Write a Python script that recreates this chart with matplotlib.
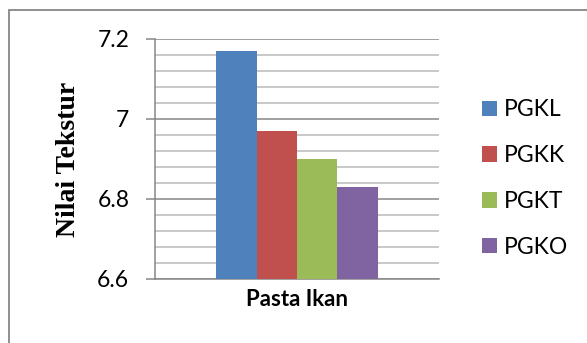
import numpy as np
import matplotlib
matplotlib.use("Agg")
import matplotlib.pyplot as plt
from matplotlib.patches import Rectangle

series = ["PGKL", "PGKK", "PGKT", "PGKO"]
values = [7.17, 6.97, 6.90, 6.83]
category = "Pasta Ikan"
PALETTE = ["#4f81bd", "#c0504d", "#9bbb59", "#8064a2"]
yticks = [6.6, 6.8, 7.0, 7.2]
ytick_labels = ["6.6", "6.8", "7", "7.2"]

plt.rcParams["font.family"] = ["Lato", "DejaVu Sans"]

fig = plt.figure(figsize=(5.87, 3.43), dpi=100)
ax = fig.add_axes([155 / 587, 1 - 279 / 343, 284 / 587, 240 / 343])

# outer chart frame
fig.patches.append(Rectangle((9 / 587, -0.1), 1.2, 1 - 10 / 343 + 0.1,
                             transform=fig.transFigure, fill=False,
                             edgecolor="#868686", linewidth=1.3, zorder=0))

bar_w = 0.1425
offsets = (np.arange(len(series)) - (len(series) - 1) / 2) * bar_w
for i, (name, val) in enumerate(zip(series, values)):
    ax.bar(offsets[i], val - 6.6, bottom=6.6, width=bar_w, color=PALETTE[i],
           label=name, zorder=3)

ax.set_xlim(-0.5, 0.5)
ax.set_ylim(6.6, 7.2)
ax.set_yticks(yticks)
ax.set_yticklabels(ytick_labels)
ax.set_yticks(np.arange(6.6, 7.2001, 0.04), minor=True)
ax.grid(which="major", axis="y", color="#868686", linewidth=1.1, zorder=1)
ax.grid(which="minor", axis="y", color="#b9b9b9", linewidth=1.1, zorder=1)
ax.tick_params(axis="y", which="major", length=6.5, width=1.1, color="#868686",
               labelsize=16.5, pad=12)
ax.tick_params(axis="y", which="minor", length=0)
ax.set_xticks([0])
ax.set_xticklabels([category], fontsize=16, fontweight="bold")
ax.tick_params(axis="x", length=0, pad=7)

for s in ["top", "right"]:
    ax.spines[s].set_visible(False)
ax.spines["left"].set_color("#868686")
ax.spines["left"].set_linewidth(1.1)
ax.spines["bottom"].set_color("#868686")
ax.spines["bottom"].set_linewidth(1.1)

ax.set_ylabel("Nilai Tekstur", family="Liberation Serif", fontweight="bold",
              fontsize=20, labelpad=12)

ax.legend(loc="center left", bbox_to_anchor=(482 / 587, 1 - 178.5 / 343),
          bbox_transform=fig.transFigure, frameon=False, fontsize=16.5,
          handlelength=0.66, handleheight=0.66, handletextpad=0.3,
          labelspacing=1.08, borderpad=0, borderaxespad=0)

plt.savefig("out.png", dpi=100)
